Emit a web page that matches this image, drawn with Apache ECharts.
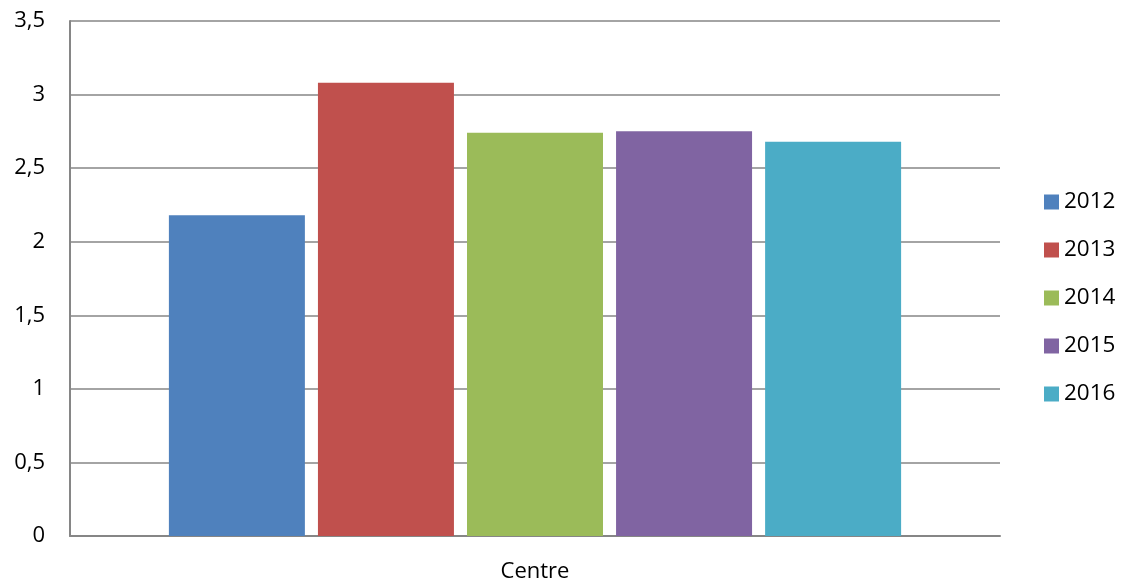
<!DOCTYPE html>
<html><head><meta charset="utf-8">
<script src="https://cdn.jsdelivr.net/npm/echarts@6/dist/echarts.min.js"></script>
<style>html,body{margin:0;padding:0;background:#fff}#c{width:1121px;height:583px}</style>
</head><body><div id="c"></div>
<script>
const categories = ['Centre'];
const years = ['2012', '2013', '2014', '2015', '2016'];
const values2012 = [2.18];
const values2013 = [3.08];
const values2014 = [2.74];
const values2015 = [2.75];
const values2016 = [2.68];
const colors = ['#4F81BD', '#C0504D', '#9BBB59', '#8064A2', '#4BACC6'];
const allValues = [values2012, values2013, values2014, values2015, values2016];
const font = 'Open Sans, Liberation Sans, sans-serif';

const chart = echarts.init(document.getElementById('c'), null, {renderer: 'canvas'});
chart.setOption({
  animation: false,
  grid: {left: 70, right: 121, top: 21, bottom: 46, containLabel: false},
  legend: {
    orient: 'vertical', left: 1039, top: 185,
    itemWidth: 15, itemHeight: 15, itemGap: 24,
    icon: 'rect',
    textStyle: {fontFamily: font, fontSize: 22.5, color: '#000', lineHeight: 24},
    data: years
  },
  xAxis: {
    type: 'category', data: categories,
    axisLine: {lineStyle: {color: '#868686', width: 2}},
    axisTick: {show: false},
    axisLabel: {fontFamily: font, fontSize: 22, color: '#000', margin: 25}
  },
  yAxis: {
    type: 'value', min: 0, max: 3.5, interval: 0.5,
    axisLine: {show: true, lineStyle: {color: '#868686', width: 2}},
    axisTick: {show: false},
    splitLine: {lineStyle: {color: '#868686', width: 1.5}},
    axisLabel: {fontFamily: font, fontSize: 22, color: '#000', margin: 25,
      formatter: v => String(v).replace('.', ',')}
  },
  series: years.map((y, i) => ({
    name: y, type: 'bar', data: allValues[i],
    barWidth: 136, barGap: '9.6%',
    itemStyle: {color: colors[i]}
  }))
});
</script></body></html>
